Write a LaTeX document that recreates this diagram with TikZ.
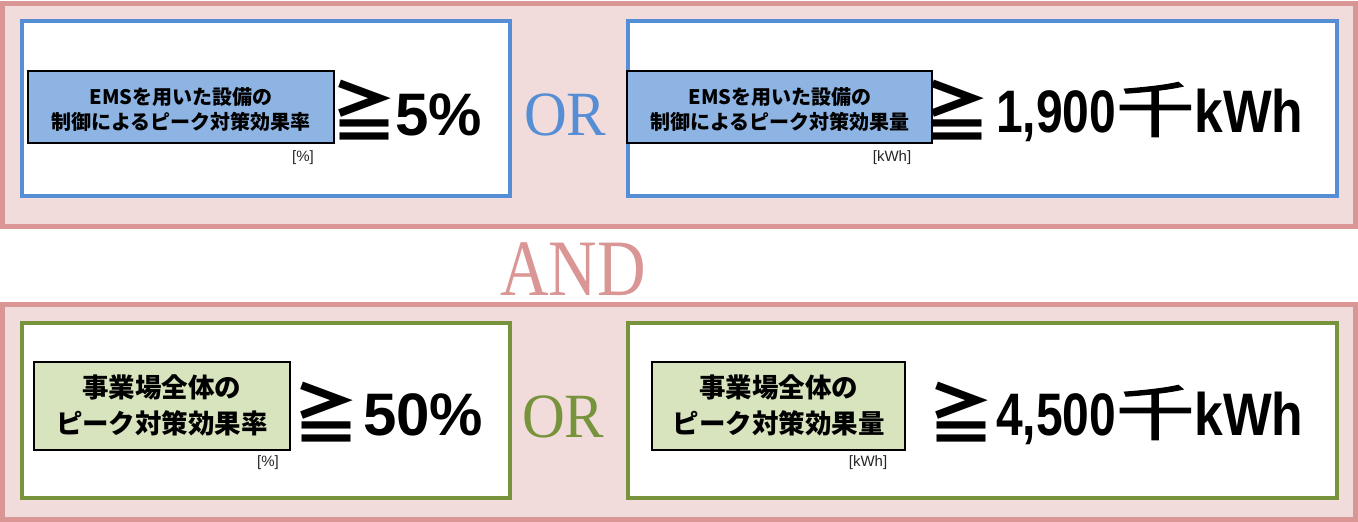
\documentclass[tikz,border=0pt]{standalone}
\usepackage{fontspec}
\setmainfont{Liberation Serif}
\newfontfamily\jp{Noto Sans CJK JP}
\newfontfamily\jpmed{Noto Sans CJK JP}[FakeBold=2]
\newfontfamily\lsans{Liberation Sans}
\definecolor{pinkline}{HTML}{D99694}
\definecolor{pinkfill}{HTML}{F2DCDB}
\definecolor{blueline}{HTML}{558ED5}
\definecolor{bluefill}{HTML}{8EB4E3}
\definecolor{greenline}{HTML}{77933C}
\definecolor{greenfill}{HTML}{D7E4BD}
\definecolor{unitgray}{HTML}{262626}
\tikzset{
  outerbox/.style={draw=pinkline, fill=pinkfill, line width=5pt},
  bluebox/.style={draw=blueline, fill=white, line width=4.5pt},
  greenbox/.style={draw=greenline, fill=white, line width=4.5pt},
  lbl/.style={draw=black, line width=1.2pt, inner sep=0pt},
  lbltext/.style={inner sep=0pt, align=center, font=\jp\bfseries},
  unit/.style={inner sep=0pt, text=unitgray, font=\lsans\fontsize{15}{15}\selectfont},
  geq/.style={inner sep=0pt, font=\jp\bfseries\fontsize{66}{66}\selectfont},
  big/.style={inner sep=0pt, anchor=base west, font=\lsans\bfseries\fontsize{60}{60}\selectfont},
  logic/.style={inner sep=0pt, anchor=base west},
}
\newcommand{\sen}{\scalebox{1.3}[1]{\jpmed\mdseries 千}}
\begin{document}
\begin{tikzpicture}[x=1pt,y=-1pt]
\useasboundingbox (0,0) rectangle (1358,522);
% outer boxes
\draw[outerbox] (2.5,3.5) rectangle (1355.5,226);
\draw[outerbox] (2.5,304.5) rectangle (1355.5,519.5);
% inner boxes
\draw[bluebox] (22,21) rectangle (510,196);
\draw[bluebox] (628,21) rectangle (1337,196);
\draw[greenbox] (22,323) rectangle (510,498);
\draw[greenbox] (628,323) rectangle (1337,498);

% logic words
\node[logic, text=blueline, font=\fontsize{63}{63}\selectfont] (or1) at (524,135) {\scalebox{0.94}[1]{OR}};
\node[logic, text=greenline, font=\fontsize{63}{63}\selectfont] (or2) at (522,437) {\scalebox{0.94}[1]{OR}};
\node[logic, text=pinkline, font=\fontsize{80}{80}\selectfont] (and) at (500,295) {\scalebox{0.84}[1]{AND}};

% top left
\node[geq] (g1) at (364,110) {≧};
\node[big] (v1) at (395,135) {5\%};
\node[lbl, fill=bluefill, minimum width=306pt, minimum height=72pt] (l1) at (181,107) {};
\node[lbltext, font=\jp\bfseries\fontsize{20}{25}\selectfont] (t1) at (181,109.5) {EMSを用いた設備の\\制御によるピーク対策効果率};
\node[unit] (u1) at (303,157.5) {[\%]};

% top right
\node[geq] (g2) at (957,110) {≧};
\node[big] (v2) at (996,132) {\scalebox{0.8}[1]{1,900}\sen\scalebox{0.86}[1]{kWh}};
\node[lbl, fill=bluefill, minimum width=305pt, minimum height=72pt] (l2) at (779.5,107) {};
\node[lbltext, font=\jp\bfseries\fontsize{20}{25}\selectfont] (t2) at (780,109.5) {EMSを用いた設備の\\制御によるピーク対策効果量};
\node[unit] (u2) at (892,157.5) {[kWh]};

% bottom left
\node[geq] (g3) at (326,412) {≧};
\node[big] (v3) at (363,435) {50\%};
\node[lbl, fill=greenfill, minimum width=256pt, minimum height=88pt] (l3) at (162,406) {};
\node[lbltext, font=\jp\bfseries\fontsize{26.5}{36}\selectfont] (t3) at (162,405) {事業場全体の\\ピーク対策効果率};
\node[unit] (u3) at (268,462.5) {[\%]};

% bottom right
\node[geq] (g4) at (961,412) {≧};
\node[big] (v4) at (996,435) {\scalebox{0.8}[1]{4,500}\sen\scalebox{0.86}[1]{kWh}};
\node[lbl, fill=greenfill, minimum width=253pt, minimum height=88pt] (l4) at (778.5,406) {};
\node[lbltext, font=\jp\bfseries\fontsize{26.5}{36}\selectfont] (t4) at (778.5,405) {事業場全体の\\ピーク対策効果量};
\node[unit] (u4) at (868,462.5) {[kWh]};
\end{tikzpicture}
\end{document}
